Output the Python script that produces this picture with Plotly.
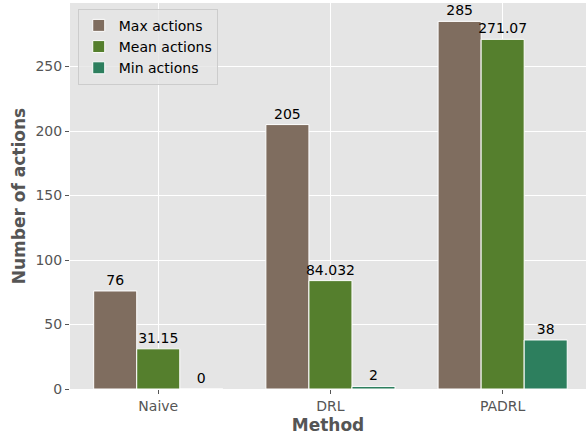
import plotly.graph_objects as go

methods = ["Naive", "DRL", "PADRL"]
max_actions = [76, 205, 285]
mean_actions = [31.15, 84.032, 271.07]
min_actions = [0, 2, 38]

series_names = ["Max actions", "Mean actions", "Min actions"]
series_values = [max_actions, mean_actions, min_actions]
series_colors = ["#7f6d5f", "#557f2d", "#2d7f5e"]

FONT = "DejaVu Sans"
GRAY = "#555555"

fig = go.Figure()
for name, vals, col in zip(series_names, series_values, series_colors):
    fig.add_trace(go.Bar(
        name=name, x=methods, y=vals,
        marker=dict(color=col, line=dict(color="white", width=1)),
        texttemplate="%{y}", textposition="outside", constraintext="none",
        textfont=dict(family=FONT, size=14, color="black"),
        cliponaxis=False,
    ))

fig.update_layout(
    width=586, height=443,
    margin=dict(l=70, r=0, t=3, b=54, autoexpand=False),
    barmode="group", bargap=0.25, bargroupgap=0,
    plot_bgcolor="#e5e5e5", paper_bgcolor="white",
    font=dict(family=FONT, size=14, color=GRAY),
    legend=dict(
        x=0.015, y=0.985, xanchor="left", yanchor="top",
        bgcolor="rgba(229,229,229,0.8)", bordercolor="#cccccc", borderwidth=1,
        font=dict(family=FONT, size=14, color="black"),
        itemwidth=30, tracegroupgap=0,
    ),
)
fig.update_xaxes(
    range=[-0.5125, 2.484], automargin=False,
    showgrid=True, gridcolor="white", gridwidth=1,
    ticks="outside", ticklen=4, tickcolor=GRAY,
    tickfont=dict(family=FONT, size=14, color=GRAY),
    title=dict(text="<b>Method</b>", font=dict(family=FONT, size=17, color=GRAY), standoff=6),
    showline=False, zeroline=False,
)
fig.update_yaxes(
    range=[0, 299.25], automargin=False,
    tickvals=[0, 50, 100, 150, 200, 250],
    showgrid=True, gridcolor="white", gridwidth=1,
    ticks="outside", ticklen=4, tickcolor=GRAY,
    tickfont=dict(family=FONT, size=14, color=GRAY),
    title=dict(text="<b>Number of actions</b>", font=dict(family=FONT, size=17, color=GRAY), standoff=5),
    showline=False, zeroline=False,
)

fig.write_html("out.html", config={"displayModeBar": False},
               post_script="document.body.style.margin='0';")
